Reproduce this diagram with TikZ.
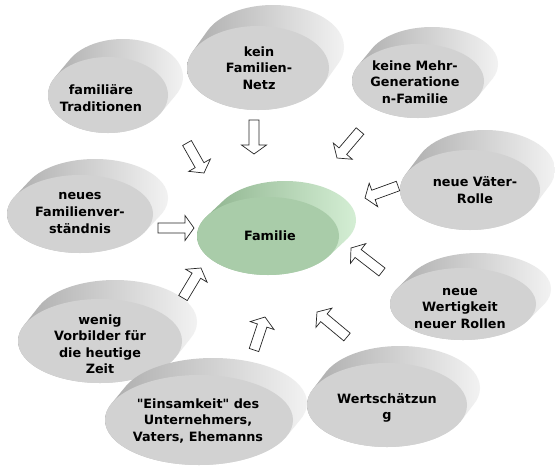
\documentclass[tikz,border=0pt]{standalone}
\usepackage{fontspec}
\setmainfont{DejaVu Sans}[Ligatures=TeXOff]
\usetikzlibrary{calc}
\definecolor{facegray}{RGB}{210,210,210}
\definecolor{sidegrayL}{RGB}{172,172,172}
\definecolor{sidegrayR}{RGB}{242,242,242}
\definecolor{facegreen}{RGB}{169,204,169}
\definecolor{sidegreenL}{RGB}{140,178,140}
\definecolor{sidegreenR}{RGB}{212,238,212}
\tikzset{
  grayside/.style={left color=sidegrayL, right color=sidegrayR},
  grayface/.style={fill=facegray},
  greenside/.style={left color=sidegreenL, right color=sidegreenR},
  greenface/.style={fill=facegreen},
  lbl/.style={align=center, inner sep=0pt, text=black,
    font=\fontsize{12.8}{16.5}\selectfont\bfseries},
  barrow/.style={draw=black!85, fill=white, line width=0.7pt, line join=miter},
}
\newcommand\bw{5pt}
\newcommand\bH{12.5pt}
\newcommand\bh{9pt}
% #1 cx, #2 cy, #3 rx, #4 ry, #5 dx, #6 dy, #7 variant
\newcommand\disc[7]{%
  \path[#7side] \foreach \k in {0,1,...,24}{
    ({#1+#5*\k/24},{#2+#6*\k/24}) ellipse [x radius=#3pt, y radius=#4pt]
  };
  \path[#7face] (#1,#2) ellipse [x radius=#3pt, y radius=#4pt];
}
\newcommand\blockarrow[2]{%
  \coordinate (#1c) at ($(#2)!\bh!(#1)$);
  \draw[barrow] ($(#1)!\bw!90:(#2)$) -- ($(#1c)!\bw!90:(#2)$) -- ($(#1c)!\bH!90:(#2)$)
    -- (#2) -- ($(#1c)!\bH!-90:(#2)$) -- ($(#1c)!\bw!-90:(#2)$) -- ($(#1)!\bw!-90:(#2)$) -- cycle;
}
\begin{document}
\begin{tikzpicture}[x=1pt, y=-1pt]
\useasboundingbox (0,0) rectangle (555,467);
\fill[white] (0,0) rectangle (555,467);

% discs (back to front)
\disc{108}{95}{60}{38}{15}{-18}{gray}
\node[lbl] (trad) at (101,98) {familiäre\\Traditionen};

\disc{258}{68}{71}{42}{15}{-21}{gray}
\node[lbl] (netz) at (259,68) {kein\\Familien-\\Netz};

\disc{418}{81}{66}{37}{14}{-17}{gray}
\node[lbl] (mehr) at (415,82) {keine Mehr-\\Generatione\\n-Familie};

\disc{470}{190}{70}{40}{15}{-20}{gray}
\node[lbl] (vater) at (475,190) {neue Väter-\\Rolle};

\disc{80}{214}{73}{39}{15}{-16}{gray}
\node[lbl] (verst) at (80,213) {neues\\Familienver-\\ständnis};

\disc{268}{236}{71}{39}{17}{-16}{green}
\node[lbl] (fam) at (270,236) {Familie};

\disc{463}{304}{73}{36}{15}{-15}{gray}
\node[lbl] (wertig) at (460,308) {neue\\Wertigkeit\\neuer Rollen};

\disc{100}{341}{82}{42}{15}{-19}{gray}
\node[lbl] (wenig) at (100,344) {wenig\\Vorbilder für\\die heutige\\Zeit};

\disc{199}{420}{94}{45}{14}{-17}{gray}
\node[lbl] (eins) at (198,421) {"Einsamkeit" des\\Unternehmers,\\Vaters, Ehemanns};

\disc{387}{405}{80}{42}{13}{-17}{gray}
\node[lbl] (wert) at (387,408) {Wertschätzun\\g};

% block arrows
\coordinate (a1s) at (187,143); \coordinate (a1e) at (204,173);
\coordinate (a2s) at (254,120); \coordinate (a2e) at (254,154);
\coordinate (a3s) at (360,131); \coordinate (a3e) at (337,158);
\coordinate (a4s) at (398,186); \coordinate (a4e) at (365,198);
\coordinate (a5s) at (158,228); \coordinate (a5e) at (194,228);
\coordinate (a6s) at (183,298); \coordinate (a6e) at (201,268);
\coordinate (a7s) at (254,350); \coordinate (a7e) at (265,317);
\coordinate (a8s) at (347,337); \coordinate (a8e) at (317,312);
\coordinate (a9s) at (382,272); \coordinate (a9e) at (351,248);
\blockarrow{a1s}{a1e}
\blockarrow{a2s}{a2e}
\blockarrow{a3s}{a3e}
\blockarrow{a4s}{a4e}
\blockarrow{a5s}{a5e}
\blockarrow{a6s}{a6e}
\blockarrow{a7s}{a7e}
\blockarrow{a8s}{a8e}
\blockarrow{a9s}{a9e}
\end{tikzpicture}
\end{document}
